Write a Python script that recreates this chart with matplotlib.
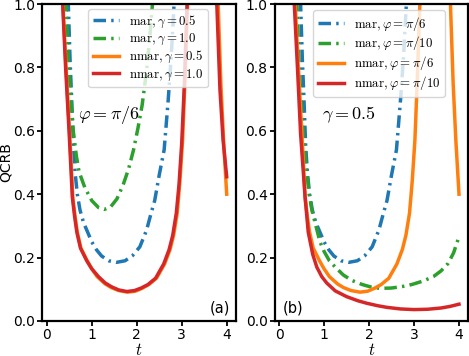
import numpy as np
import matplotlib
matplotlib.use("Agg")
import matplotlib.pyplot as plt

plt.rcParams['mathtext.fontset'] = 'cm'
plt.rcParams['font.family'] = ['DejaVu Sans']

nan = np.nan

# ── data ────────────────────────────────────────────────────────
# mar, gamma=0.5, phi=pi/6 (same curve in both panels)
t_mar_05 = [0.45, 0.48, 0.52, 0.555, 0.59, 0.63, 0.68, 0.74, 0.82, 0.92, 1.0, 1.11, 1.22,
            1.38, 1.55, 1.74, 1.9, 2.07, 2.22, 2.32, 2.40, 2.50, 2.61, 2.70, 2.77, 2.83, 2.87]
q_mar_05 = [1.15, 1.0, 0.82, 0.70, 0.56, 0.47, 0.40, 0.35, 0.31, 0.277, 0.25, 0.224, 0.205,
            0.19, 0.185, 0.19, 0.205, 0.234, 0.287, 0.34, 0.38, 0.46, 0.54, 0.697, 0.84, 1.0, 1.12]

# mar, gamma=1.0, phi=pi/6
t_mar_10 = [0.40, 0.43, 0.48, 0.54, 0.59, 0.66, 0.72, 0.85, 1.0, 1.15, 1.28, 1.42, 1.56,
            1.70, 1.82, 1.93, 2.03, 2.12, 2.22, 2.30, 2.35, 2.40]
q_mar_10 = [1.15, 1.0, 0.82, 0.70, 0.60, 0.52, 0.47, 0.42, 0.38, 0.358, 0.352, 0.36, 0.385,
            0.43, 0.48, 0.54, 0.61, 0.68, 0.79, 0.91, 1.0, 1.1]

# nmar, gamma=0.5, phi=pi/6 (same curve in both panels)
t_nmar_05 = [0.33, 0.36, 0.43, 0.51, 0.58, 0.63, 0.68, 0.76, 0.9, 1.0, 1.12, 1.3, 1.44, 1.6,
             1.8, 1.97, 2.12, 2.27, 2.44, 2.62, 2.74, 2.82, 2.9, 2.96, 3.02, 3.07, 3.13, 3.17,
             3.5, 3.77, 3.81, 3.87, 3.93, 4.0]
q_nmar_05 = [1.15, 1.0, 0.80, 0.59, 0.39, 0.33, 0.28, 0.23, 0.19, 0.165, 0.14, 0.117, 0.105, 0.096,
             0.091, 0.094, 0.103, 0.115, 0.135, 0.18, 0.225, 0.27, 0.34, 0.44, 0.57, 0.75, 1.0, 1.15,
             nan, 1.2, 1.0, 0.75, 0.57, 0.40]

# nmar, gamma=1.0, phi=pi/6
t_nmar_10 = [0.32, 0.355, 0.42, 0.50, 0.57, 0.62, 0.67, 0.75, 0.89, 1.0, 1.15, 1.3, 1.44, 1.6,
             1.78, 1.95, 2.1, 2.25, 2.42, 2.6, 2.72, 2.8, 2.88, 2.94, 3.0, 3.06, 3.12, 3.16,
             3.5, 3.74, 3.78, 3.85, 3.92, 4.0]
q_nmar_10 = [1.15, 1.0, 0.80, 0.59, 0.39, 0.33, 0.28, 0.23, 0.19, 0.165, 0.14, 0.12, 0.108, 0.098,
             0.093, 0.096, 0.104, 0.115, 0.135, 0.18, 0.225, 0.27, 0.34, 0.43, 0.56, 0.75, 1.0, 1.15,
             nan, 1.2, 1.0, 0.73, 0.57, 0.455]

# mar, phi=pi/10, gamma=0.5
t_mar_p10 = [0.36, 0.40, 0.45, 0.54, 0.60, 0.67, 0.73, 0.82, 0.91, 1.0, 1.12, 1.25, 1.43,
             1.62, 1.85, 2.05, 2.24, 2.5, 2.75, 2.95, 3.2, 3.43, 3.6, 3.76, 3.88, 4.0]
q_mar_p10 = [1.15, 1.0, 0.80, 0.59, 0.49, 0.40, 0.35, 0.30, 0.25, 0.22, 0.19, 0.17, 0.145,
             0.128, 0.115, 0.107, 0.103, 0.104, 0.109, 0.115, 0.126, 0.14, 0.158, 0.182, 0.215, 0.266]

# nmar, phi=pi/10, gamma=0.5
t_nmar_p10 = [0.31, 0.34, 0.41, 0.48, 0.58, 0.65, 0.75, 0.84, 0.95, 1.06, 1.25, 1.5, 1.75,
              1.95, 2.2, 2.4, 2.7, 3.0, 3.3, 3.6, 3.8, 4.0]
q_nmar_p10 = [1.15, 1.0, 0.80, 0.59, 0.39, 0.28, 0.21, 0.17, 0.14, 0.12, 0.095, 0.077, 0.064,
              0.056, 0.048, 0.043, 0.038, 0.036, 0.037, 0.041, 0.046, 0.053]

labels_a = [r'$\mathrm{mar}, \gamma=0.5$', r'$\mathrm{mar}, \gamma=1.0$',
            r'$\mathrm{nmar}, \gamma=0.5$', r'$\mathrm{nmar}, \gamma=1.0$']
labels_b = [r'$\mathrm{mar}, \varphi=\pi/6$', r'$\mathrm{mar}, \varphi=\pi/10$',
            r'$\mathrm{nmar}, \varphi=\pi/6$', r'$\mathrm{nmar}, \varphi=\pi/10$']

C_BLUE, C_ORANGE, C_GREEN, C_RED = '#1f77b4', '#ff7f0e', '#2ca02c', '#d62728'
LW = 2.5
DD = (3.6, 1.5, 0.7, 1.5)

# ── figure ──────────────────────────────────────────────────────
fig = plt.figure(figsize=(4.69, 3.56), dpi=100)
ax_a = fig.add_axes([42.2 / 469, 35 / 356, 193.5 / 469, 317 / 356])
ax_b = fig.add_axes([274.5 / 469, 35 / 356, 193.5 / 469, 317 / 356])

ax_a.plot(t_mar_05, q_mar_05, color=C_BLUE, lw=LW, dashes=DD, label=labels_a[0])
ax_a.plot(t_mar_10, q_mar_10, color=C_GREEN, lw=LW, dashes=DD, label=labels_a[1])
ax_a.plot(t_nmar_05, q_nmar_05, color=C_ORANGE, lw=LW, label=labels_a[2])
ax_a.plot(t_nmar_10, q_nmar_10, color=C_RED, lw=LW, label=labels_a[3])

ax_b.plot(t_mar_05, q_mar_05, color=C_BLUE, lw=LW, dashes=DD, label=labels_b[0])
ax_b.plot(t_mar_p10, q_mar_p10, color=C_GREEN, lw=LW, dashes=DD, label=labels_b[1])
ax_b.plot(t_nmar_05, q_nmar_05, color=C_ORANGE, lw=LW, label=labels_b[2])
ax_b.plot(t_nmar_p10, q_nmar_p10, color=C_RED, lw=LW, label=labels_b[3])

for ax in (ax_a, ax_b):
    ax.set_xlim(-0.1, 4.2)
    ax.set_ylim(0, 1.0)
    ax.set_xticks([0, 1, 2, 3, 4])
    ax.set_yticks([0.0, 0.2, 0.4, 0.6, 0.8, 1.0])
    ax.tick_params(labelsize=10, width=1.3, length=3.5, pad=1.5)
    for s in ax.spines.values():
        s.set_linewidth(1.6)
    ax.set_xlabel(r'$t$', fontsize=12, labelpad=-1.0)

ax_a.set_ylabel('QCRB', fontsize=10, labelpad=0.5)

leg_kw = dict(loc='upper right', borderaxespad=0, fontsize=9.3,
              handlelength=2.0, labelspacing=0.15, borderpad=0.35)
ax_a.legend(bbox_to_anchor=(0.857, 0.983), **leg_kw)
ax_b.legend(bbox_to_anchor=(0.881, 0.981), **leg_kw)

ax_a.text(0.70, 0.65, r'$\varphi=\pi/6$', fontsize=13, va='center', ha='left')
ax_b.text(0.95, 0.65, r'$\gamma=0.5$', fontsize=13, va='center', ha='left')

ax_a.text(0.97, 0.041, '(a)', transform=ax_a.transAxes, fontsize=10.5, ha='right', va='center')
ax_b.text(0.042, 0.041, '(b)', transform=ax_b.transAxes, fontsize=10.5, ha='left', va='center')

fig.savefig('out.png', dpi=100)
